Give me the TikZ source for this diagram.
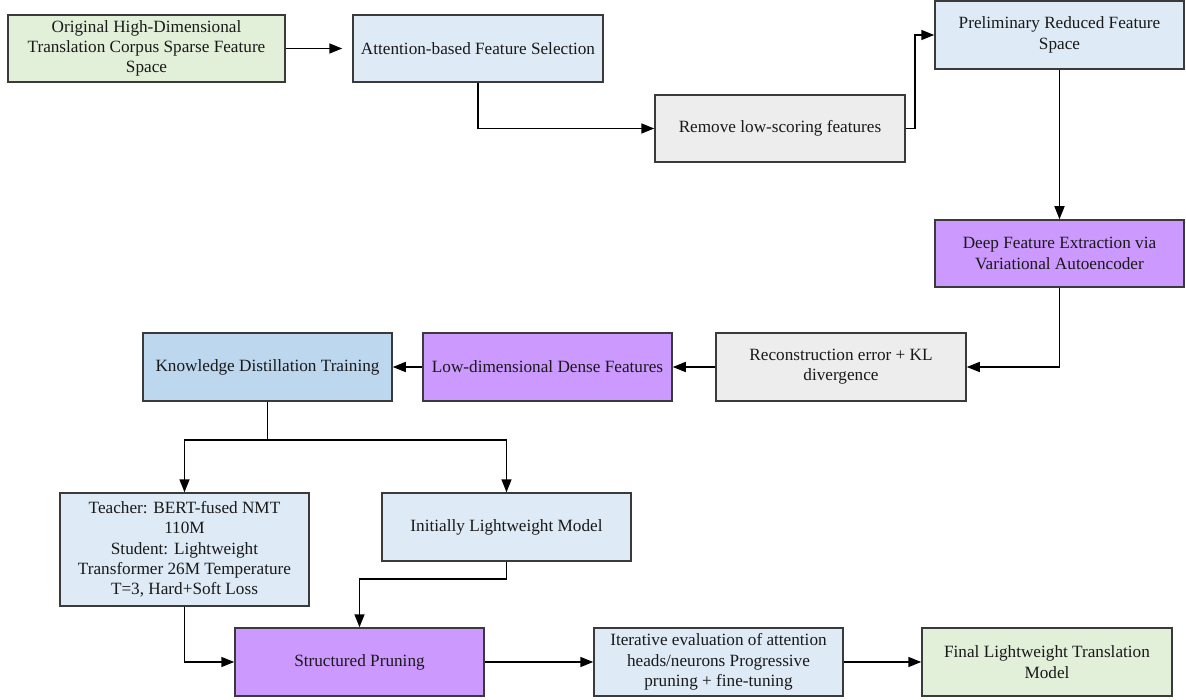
\documentclass[tikz,border=0pt]{standalone}
\usepackage{fontspec}
\setmainfont{Liberation Serif}
\usetikzlibrary{arrows.meta}
\definecolor{cgreen}{HTML}{E2EFD9}
\definecolor{cblue}{HTML}{DEEAF6}
\definecolor{cgray}{HTML}{EDEDED}
\definecolor{cpurple}{HTML}{CC99FF}
\definecolor{cdblue}{HTML}{BDD7EE}
\definecolor{cborder}{HTML}{3A3A3A}
\begin{document}
\begin{tikzpicture}[x=1pt,y=-1pt,
  box/.style={draw=cborder, line width=1.5pt, rectangle, align=center, inner sep=0pt,
    font=\fontsize{17.2}{20.3}\selectfont, text=black!90},
  arr/.style={draw=black, line width=1.6pt, -{Triangle[length=13pt,width=10pt]}}]
\useasboundingbox (0,0) rectangle (1186,700);
\node[box, fill=cgreen, minimum width=277pt, minimum height=67pt] (A) at (146.5,48.5)
  {Original High-Dimensional\\Translation Corpus Sparse Feature\\Space};
\node[box, fill=cblue, minimum width=250pt, minimum height=67pt] (B) at (478,48.5)
  {Attention-based Feature Selection};
\node[box, fill=cgray, minimum width=250pt, minimum height=67pt] (C) at (780,128.5)
  {Remove low-scoring features};
\node[box, fill=cblue, minimum width=249pt, minimum height=68pt] (D) at (1059.5,35)
  {Preliminary Reduced Feature\\Space};
\node[box, fill=cpurple, minimum width=249pt, minimum height=67pt] (E) at (1059.5,253.5)
  {Deep Feature Extraction via\\Variational Autoencoder};
\node[box, fill=cgray, minimum width=250pt, minimum height=68pt] (F) at (841,367)
  {Reconstruction error + KL\\divergence};
\node[box, fill=cpurple, minimum width=249pt, minimum height=68pt] (G) at (547.5,367)
  {Low-dimensional Dense Features};
\node[box, fill=cdblue, minimum width=249pt, minimum height=68pt] (H) at (267.5,367)
  {Knowledge Distillation Training};
\node[box, fill=cblue, minimum width=249pt, minimum height=113pt] (I) at (184.5,549.5)
  {Teacher: BERT-fused NMT\\110M\\Student: Lightweight\\Transformer 26M Temperature\\T=3, Hard+Soft Loss};
\node[box, fill=cblue, minimum width=249pt, minimum height=68pt] (J) at (506.5,527)
  {Initially Lightweight Model};
\node[box, fill=cpurple, minimum width=249pt, minimum height=68pt] (K) at (359.5,662)
  {Structured Pruning};
\node[box, fill=cblue, minimum width=249pt, minimum height=68pt] (L) at (718.5,662)
  {Iterative evaluation of attention\\heads/neurons Progressive\\pruning + fine-tuning};
\node[box, fill=cgreen, minimum width=250pt, minimum height=68pt] (M) at (1047,662)
  {Final Lightweight Translation\\Model};
\draw[arr, shorten >=10pt] (A.east) -- (B.west);
\draw[arr] (B.south) |- (C.west);
\draw[arr] (C.east) -- ++(9,0) |- (D.west);
\draw[arr] (D.south) -- (E.north);
\draw[arr] (E.south) |- (F.east);
\draw[arr] (F.west) -- (G.east);
\draw[arr] (G.west) -- (H.east);
\draw[arr] (H.south) -- ++(0,38) -| (I.north);
\draw[arr] (H.south) -- ++(0,38) -| (J.north);
\draw[arr] (J.south) -- ++(0,17) -| (K.north);
\draw[arr] (I.south) |- (K.west);
\draw[arr] (K.east) -- (L.west);
\draw[arr] (L.east) -- (M.west);
\end{tikzpicture}
\end{document}
